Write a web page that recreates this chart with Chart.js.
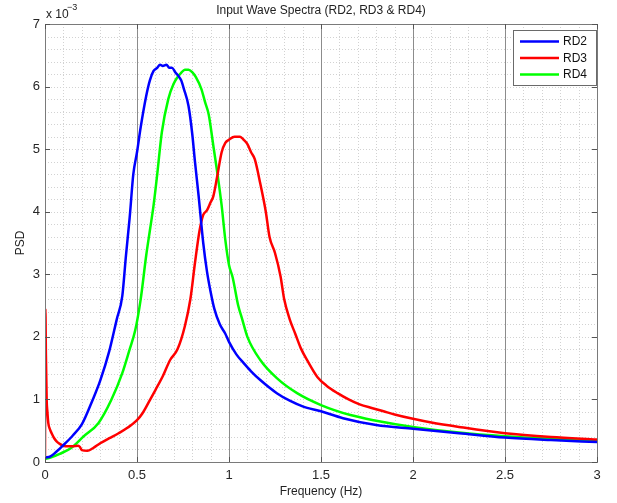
<!DOCTYPE html>
<html><head><meta charset="utf-8">
<script src="https://cdn.jsdelivr.net/npm/chart.js@4/dist/chart.umd.min.js"></script>
<style>html,body{margin:0;padding:0;background:#fff}</style>
</head><body>
<canvas id="c" width="617" height="503"></canvas>
<script>
// ---- data (PSD values in units of 1e-3) ----
const chartTitle = 'Input Wave Spectra (RD2, RD3 & RD4)';
const seriesNames = ['RD2', 'RD3', 'RD4'];
const seriesColors = ['#0000ff', '#ff0000', '#00ff00'];
const xTickLabels = ['0', '0.5', '1', '1.5', '2', '2.5', '3'];
const yTickLabels = ['0', '1', '2', '3', '4', '5', '6', '7'];

const rd2Freq = [0, 0.03, 0.06, 0.1, 0.15, 0.2, 0.26, 0.3, 0.35, 0.39, 0.42, 0.44, 0.46, 0.48, 0.5, 0.52, 0.55, 0.57, 0.59, 0.61, 0.625, 0.64, 0.66, 0.675, 0.69, 0.71, 0.725, 0.74, 0.755, 0.78, 0.8, 0.815, 0.835, 0.86, 0.88, 0.9, 0.92, 0.95, 0.98, 1.0, 1.04, 1.08, 1.12, 1.17, 1.26, 1.33, 1.4, 1.5, 1.62, 1.8, 2.0, 2.25, 2.5, 2.75, 3.0];
const rd2Psd  = [0.07, 0.09, 0.16, 0.27, 0.42, 0.6, 1.0, 1.3, 1.78, 2.28, 2.65, 3.3, 3.9, 4.6, 4.95, 5.35, 5.85, 6.1, 6.25, 6.3, 6.35, 6.33, 6.35, 6.3, 6.3, 6.22, 6.17, 6.1, 5.96, 5.69, 5.25, 4.8, 4.25, 3.5, 3.05, 2.72, 2.45, 2.2, 2.05, 1.92, 1.72, 1.58, 1.45, 1.31, 1.1, 0.98, 0.89, 0.81, 0.7, 0.59, 0.53, 0.46, 0.39, 0.35, 0.32];

const rd3Freq = [0, 0.002, 0.005, 0.009, 0.013, 0.018, 0.027, 0.036, 0.05, 0.063, 0.08, 0.1, 0.12, 0.15, 0.18, 0.19, 0.2, 0.23, 0.26, 0.3, 0.35, 0.4, 0.45, 0.5, 0.53, 0.57, 0.6, 0.64, 0.68, 0.72, 0.76, 0.79, 0.815, 0.84, 0.86, 0.88, 0.9, 0.915, 0.935, 0.96, 0.98, 1.0, 1.03, 1.06, 1.08, 1.1, 1.12, 1.14, 1.17, 1.2, 1.22, 1.25, 1.28, 1.3, 1.33, 1.36, 1.39, 1.43, 1.48, 1.53, 1.59, 1.65, 1.71, 1.78, 1.84, 1.9, 2.0, 2.1, 2.25, 2.5, 2.75, 3.0];
const rd3Psd  = [0.05, 2.45, 1.7, 1.0, 0.8, 0.62, 0.52, 0.46, 0.38, 0.33, 0.29, 0.26, 0.25, 0.25, 0.26, 0.24, 0.19, 0.18, 0.22, 0.3, 0.38, 0.46, 0.55, 0.67, 0.78, 0.99, 1.15, 1.37, 1.63, 1.8, 2.17, 2.6, 3.18, 3.7, 3.95, 4.02, 4.15, 4.25, 4.55, 4.95, 5.1, 5.15, 5.2, 5.2, 5.15, 5.08, 4.95, 4.84, 4.45, 4.0, 3.6, 3.34, 2.97, 2.6, 2.28, 2.05, 1.82, 1.6, 1.36, 1.22, 1.1, 1.0, 0.92, 0.86, 0.81, 0.76, 0.69, 0.63, 0.56, 0.46, 0.4, 0.36];

const rd4Freq = [0, 0.03, 0.08, 0.14, 0.21, 0.29, 0.36, 0.42, 0.46, 0.49, 0.52, 0.55, 0.57, 0.59, 0.61, 0.635, 0.67, 0.7, 0.72, 0.74, 0.76, 0.78, 0.8, 0.82, 0.85, 0.87, 0.89, 0.915, 0.94, 0.96, 0.98, 1.0, 1.02, 1.05, 1.07, 1.1, 1.17, 1.26, 1.37, 1.5, 1.66, 1.8, 2.0, 2.25, 2.5, 2.75, 3.0];
const rd4Psd  = [0.05, 0.07, 0.13, 0.22, 0.41, 0.62, 0.99, 1.42, 1.8, 2.1, 2.6, 3.3, 3.7, 4.1, 4.6, 5.27, 5.8, 6.05, 6.15, 6.22, 6.27, 6.27, 6.23, 6.15, 5.96, 5.75, 5.55, 5.05, 4.55, 4.1, 3.55, 3.15, 2.95, 2.5, 2.3, 2.0, 1.63, 1.34, 1.1, 0.91, 0.75, 0.66, 0.56, 0.47, 0.41, 0.37, 0.34];

const toPts = (xs, ys) => xs.map((x, i) => ({x: x, y: ys[i]}));
const FONT = "'Liberation Sans', Arial, sans-serif";

const decorPlugin = {
  id: 'decor',
  beforeDatasetsDraw(chart) {
    const {ctx, chartArea: a, scales: {x, y}} = chart;
    ctx.save();
    ctx.lineWidth = 1;
    // minor dotted grid
    ctx.strokeStyle = '#d2d2d2';
    ctx.setLineDash([1, 2]);
    for (let i = 1; i < 30; i++) {
      if (i % 5 === 0) continue;
      const px = Math.round(x.getPixelForValue(i / 10)) + 0.5;
      ctx.beginPath(); ctx.moveTo(px, a.top); ctx.lineTo(px, a.bottom); ctx.stroke();
    }
    for (let j = 1; j < 35; j++) {
      const py = Math.round(y.getPixelForValue(j / 5)) + 0.5;
      ctx.beginPath(); ctx.moveTo(a.left, py); ctx.lineTo(a.right, py); ctx.stroke();
    }
    // major vertical lines
    ctx.setLineDash([]);
    ctx.strokeStyle = '#8c8c8c';
    for (let i = 1; i < xTickLabels.length - 1; i++) {
      const px = Math.round(x.getPixelForValue(parseFloat(xTickLabels[i]))) + 0.5;
      ctx.beginPath(); ctx.moveTo(px, a.top); ctx.lineTo(px, a.bottom); ctx.stroke();
    }
    ctx.restore();
  },
  afterDraw(chart) {
    const {ctx, chartArea: a, scales: {x, y}} = chart;
    ctx.save();
    // frame
    ctx.strokeStyle = '#7a7a7a';
    ctx.lineWidth = 1;
    ctx.strokeRect(Math.round(a.left) + 0.5, Math.round(a.top) + 0.5, Math.round(a.right - a.left), Math.round(a.bottom - a.top));
    // inward tick marks
    ctx.strokeStyle = '#555';
    xTickLabels.forEach(t => {
      const px = Math.round(x.getPixelForValue(parseFloat(t))) + 0.5;
      ctx.beginPath(); ctx.moveTo(px, a.bottom); ctx.lineTo(px, a.bottom - 5); ctx.stroke();
      ctx.beginPath(); ctx.moveTo(px, a.top); ctx.lineTo(px, a.top + 5); ctx.stroke();
    });
    yTickLabels.forEach(t => {
      const py = Math.round(y.getPixelForValue(parseFloat(t))) + 0.5;
      ctx.beginPath(); ctx.moveTo(a.left, py); ctx.lineTo(a.left + 5, py); ctx.stroke();
      ctx.beginPath(); ctx.moveTo(a.right, py); ctx.lineTo(a.right - 5, py); ctx.stroke();
    });
    // title
    ctx.fillStyle = '#222';
    ctx.font = '12px ' + FONT;
    ctx.textAlign = 'center';
    ctx.textBaseline = 'middle';
    ctx.fillText(chartTitle, (a.left + a.right) / 2, 11);
    // exponent label
    ctx.textAlign = 'left';
    ctx.font = '12px ' + FONT;
    ctx.fillText('x 10', a.left + 1, 15);
    ctx.font = '9px ' + FONT;
    ctx.fillText('\u22123', a.left + 22, 8);
    // legend
    const lx = a.right - 84, ly = a.top + 6, lw = 84, lh = 56;
    ctx.fillStyle = '#fff';
    ctx.fillRect(lx, ly, lw, lh);
    ctx.strokeStyle = '#6a6a6a';
    ctx.strokeRect(lx + 0.5, ly + 0.5, lw - 1, lh - 1);
    ctx.font = '12px ' + FONT;
    ctx.textBaseline = 'middle';
    chart.data.datasets.forEach((ds, i) => {
      const yy = ly + 11.5 + i * 16.5;
      ctx.strokeStyle = ds.borderColor;
      ctx.lineWidth = 2.5;
      ctx.beginPath(); ctx.moveTo(lx + 7, yy); ctx.lineTo(lx + 46, yy); ctx.stroke();
      ctx.fillStyle = '#111';
      ctx.fillText(ds.label, lx + 50, yy + 0.5);
    });
    ctx.restore();
  }
};

const datasets = [
  {label: seriesNames[0], data: toPts(rd2Freq, rd2Psd), borderColor: seriesColors[0]},
  {label: seriesNames[1], data: toPts(rd3Freq, rd3Psd), borderColor: seriesColors[1]},
  {label: seriesNames[2], data: toPts(rd4Freq, rd4Psd), borderColor: seriesColors[2]}
].map(d => Object.assign(d, {borderWidth: 2.5, pointRadius: 0, fill: false, cubicInterpolationMode: 'monotone'}));

new Chart(document.getElementById('c'), {
  type: 'line',
  data: {datasets: datasets},
  options: {
    responsive: false,
    animation: false,
    devicePixelRatio: 1,
    layout: {padding: {top: 24, right: 20, left: 0, bottom: 0}},
    plugins: {legend: {display: false}, tooltip: {enabled: false}, title: {display: false}},
    scales: {
      x: {
        type: 'linear', min: 0, max: 3,
        afterFit: s => { s.height = 41; },
        grid: {display: false, drawTicks: false},
        border: {display: false},
        ticks: {
          stepSize: 0.5, autoSkip: false, maxRotation: 0, padding: 6,
          color: '#262626', font: {family: FONT, size: 13},
          callback: (v) => { const i = Math.round(v * 2); return xTickLabels[i] !== undefined ? xTickLabels[i] : ''; }
        },
        title: {display: true, text: 'Frequency (Hz)', color: '#222', font: {family: FONT, size: 12}, padding: {top: 0, bottom: 4}}
      },
      y: {
        type: 'linear', min: 0, max: 7,
        afterFit: s => { s.width = 45; },
        grid: {display: false, drawTicks: false},
        border: {display: false},
        ticks: {
          stepSize: 1, autoSkip: false, padding: 5,
          color: '#262626', font: {family: FONT, size: 13},
          callback: (v) => { const i = Math.round(v); return yTickLabels[i] !== undefined ? yTickLabels[i] : ''; }
        },
        title: {display: true, text: 'PSD', color: '#222', font: {family: FONT, size: 12}, padding: {top: 13, bottom: 0}}
      }
    }
  },
  plugins: [decorPlugin]
});
</script>
</body></html>
